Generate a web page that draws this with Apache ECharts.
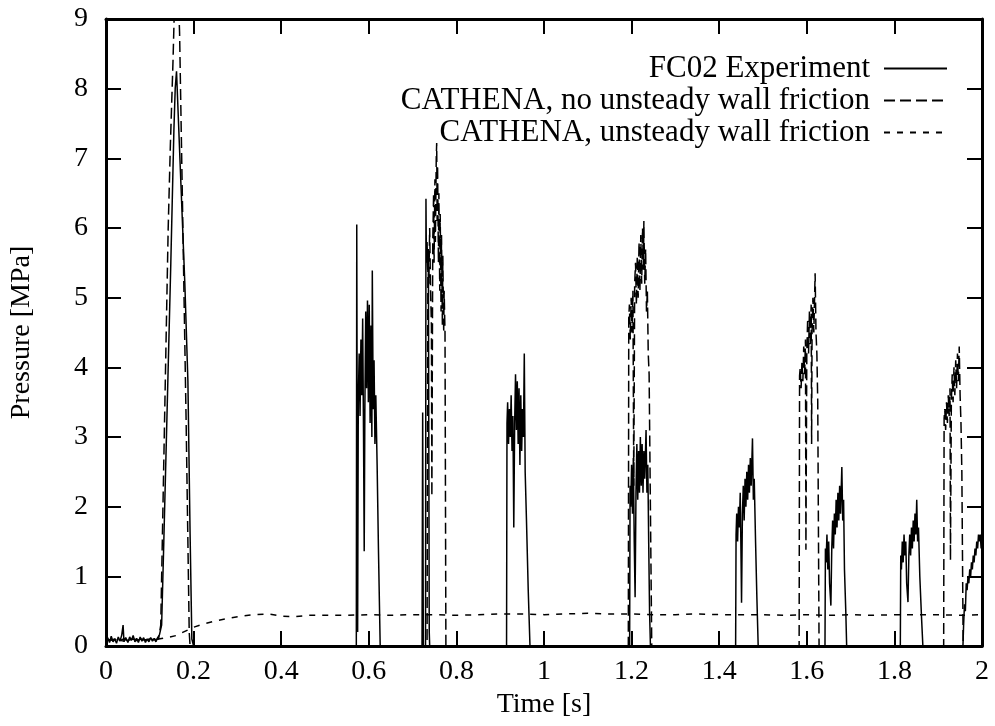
<!DOCTYPE html>
<html>
<head>
<meta charset="utf-8">
<script src="https://cdn.jsdelivr.net/npm/echarts@6/dist/echarts.min.js"></script>
<style>
html,body{margin:0;padding:0;background:#fff;}
#chart{width:995px;height:726px;}
</style>
</head>
<body>
<div id="chart"></div>
<script>
// ---------- tick labels ----------
const xTickLabels = ['0','0.2','0.4','0.6','0.8','1','1.2','1.4','1.6','1.8','2'];
const yTickLabels = ['0','1','2','3','4','5','6','7','8','9'];
const seriesNames = ['FC02 Experiment','CATHENA, no unsteady wall friction','CATHENA, unsteady wall friction'];

// ---------- FC02 experiment (time s, pressure MPa) ----------
const expStart = [[0,0.08],[0.004,0.12],[0.008,0.05],[0.012,0.14],[0.016,0.06],[0.02,0.1],[0.024,0.04],[0.028,0.13],[0.032,0.07],[0.036,0.16],[0.039,0.3],[0.041,0.06],[0.045,0.12],[0.05,0.05],[0.054,0.13],[0.058,0.08],[0.062,0.15],[0.066,0.06],[0.07,0.11],[0.074,0.05],[0.078,0.13],[0.082,0.07],[0.086,0.12],[0.09,0.05],[0.094,0.1],[0.098,0.06],[0.102,0.12],[0.106,0.07],[0.11,0.11],[0.114,0.06],[0.118,0.12],[0.122,0.16],[0.127,0.3],[0.132,1.5],[0.14,3.5],[0.148,5.5],[0.155,7.4],[0.158,8.0],[0.161,8.25],[0.17,6.8],[0.18,5.2],[0.187,3.8],[0.192,1.6],[0.196,0.1],[0.2,0]];
const expBurst1 = [[0.5715,0],[0.5725,6.05],[0.5745,0.2],[0.576,3.5],[0.578,4.2],[0.58,3.3],[0.582,4.4],[0.584,3.6],[0.586,4.7],[0.588,3.0],[0.5895,1.36],[0.591,3.4],[0.593,4.8],[0.595,3.7],[0.597,4.96],[0.599,3.5],[0.601,4.9],[0.603,3.2],[0.605,4.6],[0.607,3.0],[0.608,5.39],[0.61,3.4],[0.612,4.1],[0.614,2.9],[0.616,3.6],[0.619,2.6],[0.622,1.4],[0.626,0]];
const expBurst2 = [[0.7215,0],[0.723,3.35],[0.7245,0],[0.7295,0],[0.7305,6.42],[0.7315,5.5],[0.733,5.8],[0.7345,5.4],[0.736,5.7],[0.737,3.0],[0.738,0.2],[0.739,0]];
const expBurst3 = [[0.9145,0],[0.9155,3.2],[0.917,3.5],[0.919,2.9],[0.921,3.4],[0.923,3.0],[0.925,3.6],[0.927,2.8],[0.929,3.3],[0.931,1.7],[0.933,3.2],[0.935,3.9],[0.937,3.1],[0.939,3.8],[0.941,2.9],[0.943,3.7],[0.945,2.6],[0.947,3.6],[0.949,2.8],[0.951,3.4],[0.953,3.0],[0.955,4.2],[0.957,2.5],[0.96,1.8],[0.964,0.8],[0.968,0]];
const expBurst4 = [[1.1955,0],[1.1965,2.3],[1.198,2.0],[1.2,2.6],[1.202,1.9],[1.204,2.7],[1.206,1.5],[1.208,0.7],[1.21,2.2],[1.212,2.9],[1.214,2.1],[1.216,2.8],[1.218,2.2],[1.22,3.0],[1.222,2.3],[1.224,2.9],[1.226,2.2],[1.228,2.8],[1.23,2.4],[1.233,3.1],[1.235,2.2],[1.237,2.6],[1.239,1.5],[1.241,0.5],[1.243,0]];
const expBurst5 = [[1.4375,0],[1.4385,1.6],[1.44,1.9],[1.442,1.5],[1.444,2.0],[1.446,1.7],[1.448,2.2],[1.45,1.2],[1.451,0.62],[1.453,1.9],[1.455,2.3],[1.457,1.8],[1.459,2.4],[1.461,2.0],[1.463,2.5],[1.465,2.1],[1.467,2.6],[1.469,2.2],[1.471,2.7],[1.473,2.3],[1.476,2.98],[1.478,2.1],[1.48,2.4],[1.483,1.5],[1.486,0.7],[1.489,0]];
const expBurst6 = [[1.6415,0],[1.6425,1.4],[1.644,1.2],[1.646,1.6],[1.648,1.1],[1.65,1.5],[1.652,0.9],[1.655,0.58],[1.657,1.4],[1.659,1.8],[1.661,1.4],[1.663,1.9],[1.665,1.6],[1.667,2.1],[1.669,1.7],[1.671,2.2],[1.673,1.8],[1.675,2.3],[1.677,1.9],[1.68,2.57],[1.682,1.8],[1.684,2.1],[1.686,1.1],[1.689,0.5],[1.691,0]];
const expBurst7 = [[1.8135,0],[1.8145,1.3],[1.816,1.1],[1.818,1.5],[1.82,1.2],[1.822,1.6],[1.824,1.3],[1.826,1.5],[1.828,0.9],[1.831,0.63],[1.833,1.3],[1.835,1.6],[1.837,1.3],[1.839,1.7],[1.841,1.4],[1.843,1.8],[1.845,1.5],[1.847,1.9],[1.849,1.6],[1.851,2.1],[1.853,1.5],[1.855,1.7],[1.858,1.0],[1.862,0.4],[1.865,0]];
const expBurst8 = [[1.9565,0],[1.958,0.3],[1.96,0.6],[1.962,0.5],[1.964,0.9],[1.966,0.8],[1.968,1.0],[1.97,0.9],[1.972,1.1],[1.974,1.0],[1.976,1.2],[1.978,1.1],[1.98,1.3],[1.982,1.2],[1.984,1.4],[1.986,1.3],[1.988,1.5],[1.99,1.4],[1.992,1.6],[1.994,1.5],[1.996,1.6],[1.998,1.4],[2.0,1.55]];

// ---------- CATHENA, no unsteady wall friction ----------
const noUwfStart = [[0,0.1],[0.01,0.08],[0.02,0.1],[0.03,0.07],[0.04,0.1],[0.05,0.08],[0.06,0.1],[0.07,0.08],[0.08,0.1],[0.09,0.08],[0.1,0.1],[0.11,0.09],[0.12,0.1],[0.125,0.3],[0.133,3.0],[0.142,6.0],[0.147,7.2],[0.153,8.4],[0.158,9.6],[0.164,9.6],[0.168,8.8],[0.175,6.2],[0.183,3.2],[0.19,0.2],[0.192,0]];
const noUwfBurst1 = [[0.733,0],[0.735,5.7],[0.737,5.2],[0.739,6.0],[0.741,5.1],[0.743,4.6],[0.744,2.15],[0.746,5.8],[0.748,6.5],[0.749,5.5],[0.751,6.7],[0.752,5.8],[0.754,7.0],[0.755,7.22],[0.756,6.1],[0.757,6.9],[0.759,5.5],[0.76,6.5],[0.762,5.1],[0.763,6.2],[0.765,4.8],[0.766,5.9],[0.768,4.6],[0.769,5.6],[0.771,4.5],[0.772,5.1],[0.774,4.5],[0.776,0]];
const noUwfBurst2 = [[1.1925,0],[1.1935,4.7],[1.195,4.9],[1.197,4.4],[1.199,5.0],[1.201,4.5],[1.203,5.1],[1.205,2.3],[1.207,5.2],[1.209,5.5],[1.211,4.9],[1.213,5.6],[1.215,5.0],[1.217,5.8],[1.219,5.1],[1.221,5.9],[1.223,5.2],[1.225,6.0],[1.227,5.4],[1.228,6.1],[1.23,5.2],[1.232,5.7],[1.234,4.8],[1.236,5.1],[1.238,4.2],[1.24,3.9],[1.246,0]];
const noUwfBurst3 = [[1.5825,0],[1.5835,3.88],[1.585,4.0],[1.587,3.7],[1.589,4.1],[1.591,3.8],[1.593,4.3],[1.595,3.9],[1.597,4.4],[1.598,1.38],[1.6,4.2],[1.602,4.7],[1.604,4.2],[1.606,4.8],[1.608,4.3],[1.61,4.9],[1.611,2.9],[1.612,4.5],[1.614,5.0],[1.616,4.5],[1.619,5.35],[1.621,4.5],[1.623,4.2],[1.625,3.5],[1.628,0]];
const noUwfBurst4 = [[1.9125,0],[1.9135,3.27],[1.915,3.4],[1.917,3.1],[1.919,3.5],[1.921,3.2],[1.923,3.6],[1.925,3.3],[1.927,3.7],[1.928,1.23],[1.93,3.5],[1.932,3.9],[1.934,3.5],[1.936,4.0],[1.938,3.6],[1.94,4.1],[1.942,3.7],[1.944,4.2],[1.946,3.8],[1.948,4.3],[1.95,3.6],[1.952,3.2],[1.954,2.5],[1.957,0],[2.0,0]];

// ---------- CATHENA, unsteady wall friction ----------
const uwfData = [[0,0.08],[0.02,0.1],[0.04,0.07],[0.06,0.1],[0.08,0.08],[0.1,0.1],[0.12,0.1],[0.14,0.12],[0.16,0.15],[0.18,0.21],[0.2,0.27],[0.22,0.31],[0.25,0.36],[0.28,0.4],[0.31,0.43],[0.34,0.45],[0.37,0.46],[0.4,0.43],[0.43,0.42],[0.46,0.44],[0.5,0.44],[0.55,0.44],[0.6,0.45],[0.65,0.44],[0.7,0.45],[0.75,0.45],[0.8,0.44],[0.85,0.45],[0.9,0.46],[0.95,0.46],[1.0,0.45],[1.05,0.46],[1.1,0.47],[1.15,0.46],[1.2,0.46],[1.25,0.45],[1.3,0.45],[1.35,0.46],[1.4,0.45],[1.45,0.45],[1.5,0.45],[1.55,0.44],[1.6,0.45],[1.65,0.44],[1.7,0.45],[1.75,0.44],[1.8,0.45],[1.85,0.45],[1.9,0.45],[1.95,0.44],[2.0,0.45]];

const expData = [].concat(expStart, expBurst1, expBurst2, expBurst3, expBurst4, expBurst5, expBurst6, expBurst7, expBurst8);
const noUwfData = [].concat(noUwfStart, noUwfBurst1, noUwfBurst2, noUwfBurst3, noUwfBurst4);

const FONT = 'Liberation Serif';
const chart = echarts.init(document.getElementById('chart'));

function axisCommon(pos, showLabel, isX) {
  return {
    type: 'value',
    position: pos,
    min: 0,
    max: isX ? 2 : 9,
    interval: isX ? 0.2 : 1,
    axisLine: { show: true, onZero: false, lineStyle: { color: '#000', width: 3 } },
    axisTick: { show: true, inside: true, length: 15, lineStyle: { color: '#000', width: 2 } },
    splitLine: { show: false },
    axisLabel: {
      show: showLabel,
      color: '#000',
      fontFamily: FONT,
      fontSize: 28,
      margin: isX ? 12 : 18,
      formatter: function (v) {
        return isX ? xTickLabels[Math.round(v / 0.2)] : yTickLabels[Math.round(v)];
      }
    }
  };
}

const xBottom = Object.assign(axisCommon('bottom', true, true), {
  name: 'Time [s]', nameLocation: 'middle', nameGap: 45,
  nameTextStyle: { color: '#000', fontFamily: FONT, fontSize: 28 }
});
const xTop = axisCommon('top', false, true);
const yLeft = Object.assign(axisCommon('left', true, false), {
  name: 'Pressure [MPa]', nameLocation: 'middle', nameGap: 70,
  nameTextStyle: { color: '#000', fontFamily: FONT, fontSize: 28 }
});
const yRight = axisCommon('right', false, false);

function legendFor(name, top) {
  return {
    data: [name],
    right: 42,
    top: top,
    orient: 'vertical',
    align: 'right',
    itemWidth: 63,
    itemHeight: 24,
    selectedMode: false,
    itemStyle: { color: 'rgba(0,0,0,0)', borderColor: 'rgba(0,0,0,0)', borderWidth: 0 },
    textStyle: { color: '#000', fontFamily: FONT, fontSize: 31, padding: [0, 9, 0, 0] }
  };
}

chart.setOption({
  animation: false,
  backgroundColor: '#fff',
  grid: { left: 106, right: 13, top: 19, bottom: 80 },
  legend: [legendFor(seriesNames[0], 48), legendFor(seriesNames[1], 80), legendFor(seriesNames[2], 112)],
  xAxis: [xBottom, xTop],
  yAxis: [yLeft, yRight],
  series: [
    {
      name: seriesNames[0], type: 'line', data: expData, showSymbol: false, symbol: 'none',
      xAxisIndex: 0, yAxisIndex: 0, clip: true,
      lineStyle: { color: '#000', width: 1.5, type: 'solid' }, itemStyle: { color: '#000' }
    },
    {
      name: seriesNames[1], type: 'line', data: noUwfData, showSymbol: false, symbol: 'none',
      xAxisIndex: 0, yAxisIndex: 0, clip: true,
      lineStyle: { color: '#000', width: 1.5, type: [11, 5] }, itemStyle: { color: '#000' }
    },
    {
      name: seriesNames[2], type: 'line', data: uwfData, showSymbol: false, symbol: 'none',
      xAxisIndex: 0, yAxisIndex: 0, clip: true,
      lineStyle: { color: '#000', width: 1.5, type: [6, 7] }, itemStyle: { color: '#000' }
    }
  ]
});
</script>
</body>
</html>
